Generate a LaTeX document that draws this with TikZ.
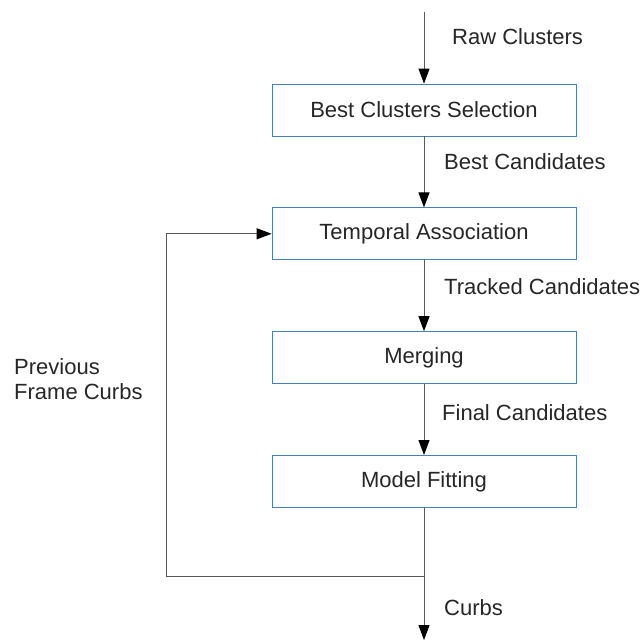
\documentclass[tikz,border=0pt]{standalone}
\usepackage{fontspec}
\setmainfont{Liberation Sans}
\usetikzlibrary{positioning,arrows.meta}
\definecolor{boxblue}{HTML}{4A7EBB}

\begin{document}
\begin{tikzpicture}[
    x=1pt, y=-1pt,
    node distance=71pt,
    every node/.style={font=\fontsize{22}{25}\selectfont, text=black!85},
    stage/.style={
      shape=rectangle,
      draw=boxblue,
      line width=0.8pt,
      minimum width=304pt,
      minimum height=52pt,
      inner sep=0pt
    },
    flow/.style={draw=black!65, line width=0.9pt, -{Triangle[length=15pt,width=11pt,color=black]}},
    tag/.style={anchor=west, inner sep=0pt, align=left}
  ]
    \useasboundingbox (0,0) rectangle (644,641);
    % Processing stages
    \node[stage] (select) at (424,110) {Best Clusters Selection};
    \node[stage, below=of select] (assoc) {Temporal Association};
    \node[stage, below=of assoc] (merge) {Merging};
    \node[stage, below=of merge] (fit) {Model Fitting};
    % Free ends of the flow
    \coordinate (in) at (424,12);
    \coordinate (out) at (424,640);
    \coordinate (split) at (424,576);
    \coordinate (back) at (166,576);
    % Flow between stages
    \draw[flow] (in) -- (select);
    \draw[flow] (select) -- (assoc);
    \draw[flow] (assoc) -- (merge);
    \draw[flow] (merge) -- (fit);
    \draw[flow] (fit) -- (out);
    % Feedback of the previous frame
    \draw[flow] (split) -- (back) |- (assoc);
    % Labels
    \node[tag] (raw) at (452,37) {Raw Clusters};
    \node[tag] (best) at (444,162) {Best Candidates};
    \node[tag] (tracked) at (444,287) {Tracked Candidates};
    \node[tag] (final) at (442,413) {Final Candidates};
    \node[tag] (curbs) at (444,608) {Curbs};
    \node[tag] (prev) at (14,379) {Previous\\Frame Curbs};
  \end{tikzpicture}
\end{document}
